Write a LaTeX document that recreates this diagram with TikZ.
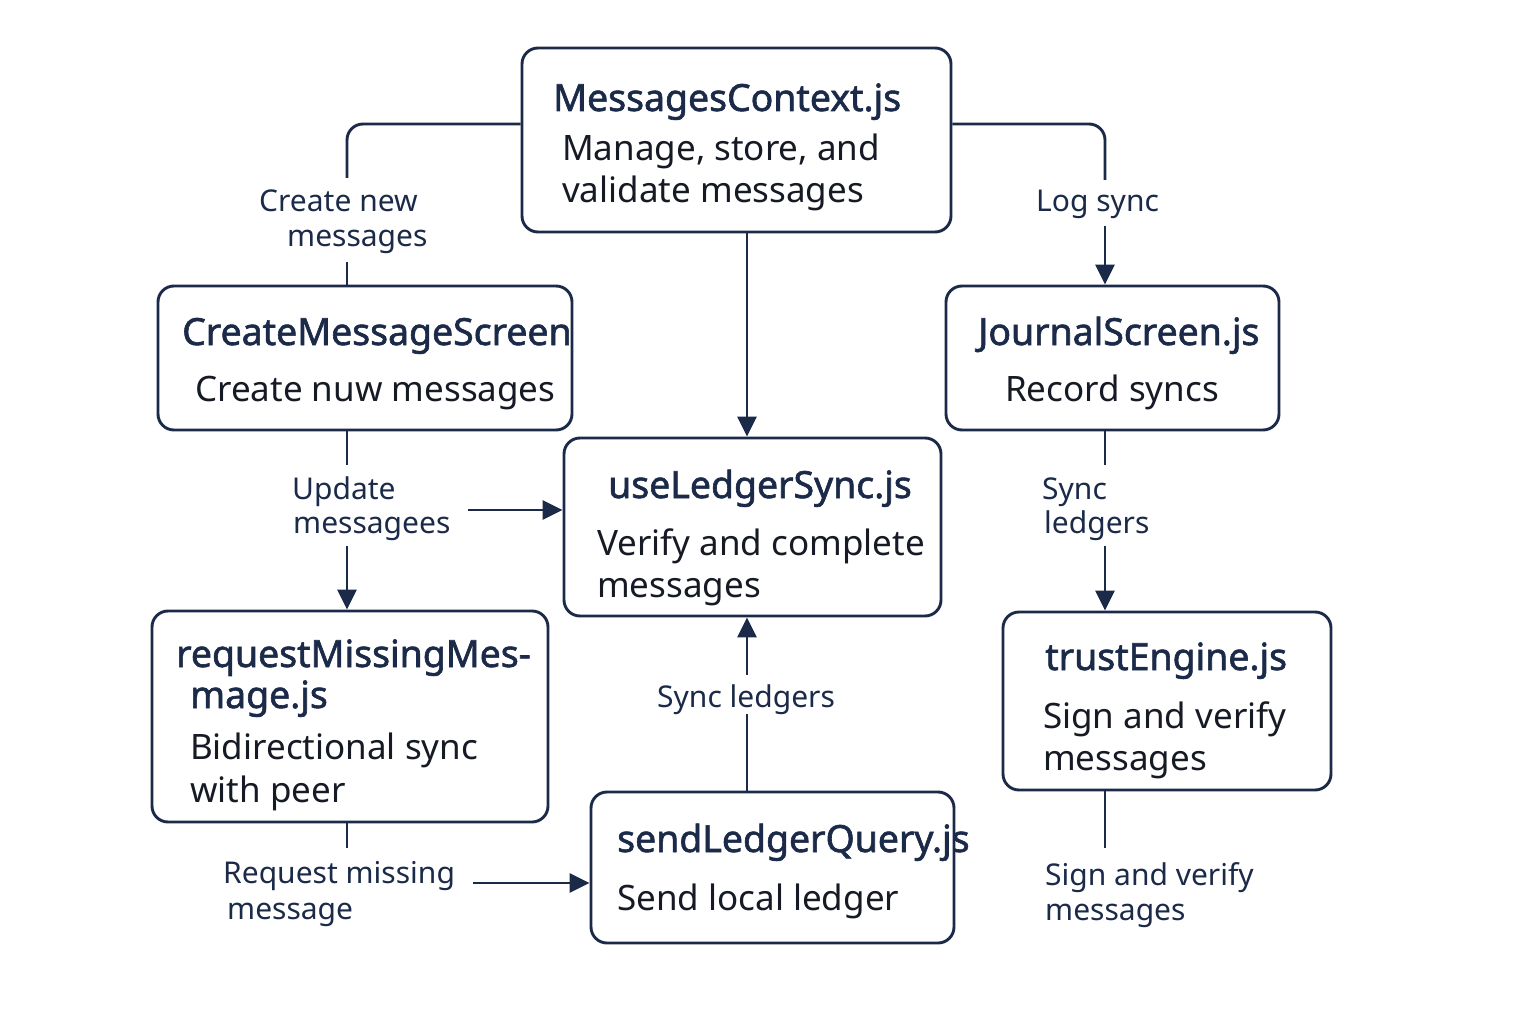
\documentclass[tikz,border=0pt]{standalone}
\usepackage{fontspec}
\setmainfont{Noto Sans}
\newfontfamily\ttlfont{Noto Sans}[FakeBold=1.6]
\usetikzlibrary{arrows.meta}
\definecolor{navy}{RGB}{27,42,72}
\definecolor{ink}{RGB}{22,26,36}
\tikzset{
  box/.style={draw=navy, line width=2.9pt, rounded corners=16pt, fill=white, inner sep=0pt},
  ttl/.style={anchor=base west, inner sep=0pt, text=navy, font=\fontsize{37.4}{44}\ttlfont},
  bod/.style={anchor=base west, inner sep=0pt, text=ink, font=\fontsize{35}{40}\selectfont},
  lbl/.style={anchor=base west, inner sep=0pt, text=navy, font=\fontsize{30}{34}\selectfont},
  conn/.style={draw=navy, line width=2.9pt},
  arr/.style={conn, -{Triangle[length=20pt,width=19pt]}},
}
\begin{document}
\begin{tikzpicture}[x=1pt,y=-1pt]
\useasboundingbox (0,0) rectangle (1536,1024);
\fill[white] (0,0) rectangle (1536,1024);

% boxes
\node[box, minimum width=429pt, minimum height=184pt] (mc) at (736.5,140) {};
\node[box, minimum width=414pt, minimum height=144pt] (cms) at (365,358) {};
\node[box, minimum width=333pt, minimum height=144pt] (js) at (1112.5,358) {};
\node[box, minimum width=377pt, minimum height=178pt] (uls) at (752.5,527) {};
\node[box, minimum width=396pt, minimum height=211pt] (rmm) at (350,716.5) {};
\node[box, minimum width=363pt, minimum height=151pt] (slq) at (772.5,867.5) {};
\node[box, minimum width=328pt, minimum height=178pt] (te) at (1167,701) {};

% box texts
\node[ttl] (mcT) at (553,111) {MessagesContext.js};
\node[bod] (mcB1) at (562,161) {Manage, store, and};
\node[bod] (mcB2) at (562,203) {validate messages};

\node[ttl] (cmsT) at (182,345) {CreateMessageScreen};
\node[bod] (cmsB) at (195,401) {Create nuw messages};

\node[ttl] (jsT) at (978,345) {JournalScreen.js};
\node[bod] (jsB) at (1005,401) {Record syncs};

\node[ttl] (ulsT) at (608,498) {useLedgerSync.js};
\node[bod] (ulsB1) at (597,555) {Verify and complete};
\node[bod] (ulsB2) at (597,597) {messages};

\node[ttl] (rmmT1) at (176,667) {requestMissingMes-};
\node[ttl] (rmmT2) at (190,708) {mage.js};
\node[bod] (rmmB1) at (190,759) {Bidirectional sync};
\node[bod] (rmmB2) at (190,802) {with peer};

\node[ttl] (slqT) at (617,852) {sendLedgerQuery.js};
\node[bod] (slqB) at (617,910) {Send local ledger};

\node[ttl] (teT) at (1045,670) {trustEngine.js};
\node[bod] (teB1) at (1043,728) {Sign and verify};
\node[bod] (teB2) at (1043,770) {messages};

% labels
\node[lbl] (l1a) at (259,212) {Create new};
\node[lbl] (l1b) at (287,247) {messages};
\node[lbl] (l2) at (1036,212) {Log sync};
\node[lbl] (l3a) at (292,499) {Update};
\node[lbl] (l3b) at (293,533) {messagees};
\node[lbl] (l4a) at (223,883) {Request missing};
\node[lbl] (l4b) at (227,919) {message};
\node[lbl] (l5) at (657,707) {Sync ledgers};
\node[lbl] (l6a) at (1042,499) {Sync};
\node[lbl] (l6b) at (1044,533) {ledgers};
\node[lbl] (l7a) at (1045,885) {Sign and verify};
\node[lbl] (l7b) at (1045,920) {messages};

% coordinates for broken connectors
\coordinate (c1) at (347,178);
\coordinate (c2) at (347,262);
\coordinate (c3) at (1105,180);
\coordinate (c4) at (1105,226);
\coordinate (c5) at (347,465);
\coordinate (c6) at (347,546);
\coordinate (c7) at (468,510);
\coordinate (c8) at (347,848);
\coordinate (c9) at (473,883);
\coordinate (c10) at (747,714);
\coordinate (c11) at (747,675);
\coordinate (c12) at (1105,465);
\coordinate (c13) at (1105,546);
\coordinate (c14) at (1105,848);
\coordinate (c15) at (747,232);

% connectors
\draw[conn, rounded corners=16pt] ([yshift=16pt]mc.west) -| (c1);
\draw[conn] (c2) -- (c2 |- cms.north);
\draw[conn, rounded corners=16pt] ([yshift=16pt]mc.east) -| (c3);
\draw[arr] (c4) -- (c4 |- js.north);
\draw[arr] (c15 |- mc.south) -- (c15 |- uls.north);
\draw[conn] (c5 |- cms.south) -- (c5);
\draw[arr] (c6) -- (c6 |- rmm.north);
\draw[arr] (c7) -- (c7 -| uls.west);
\draw[conn] (c8 |- rmm.south) -- (c8);
\draw[arr] (c9) -- (c9 -| slq.west);
\draw[conn] (c10 |- slq.north) -- (c10);
\draw[arr] (c11) -- (c11 |- uls.south);
\draw[conn] (c12 |- js.south) -- (c12);
\draw[arr] (c13) -- (c13 |- te.north);
\draw[conn] (c14 |- te.south) -- (c14);
\end{tikzpicture}
\end{document}
